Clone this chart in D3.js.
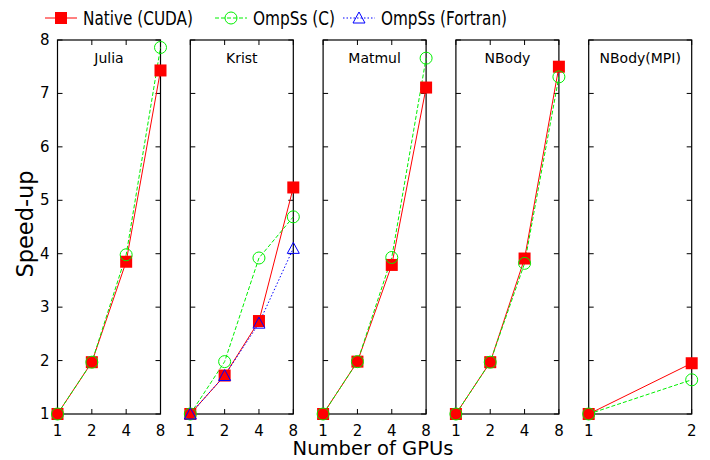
<!DOCTYPE html>
<html>
<head>
<meta charset="utf-8">
<script src="https://cdn.jsdelivr.net/npm/d3@7"></script>
<style>
  body { margin: 0; background: #fff; }
  text { font-family: "DejaVu Sans", sans-serif; fill: #000; }
</style>
</head>
<body>
<svg id="the-svg" width="710" height="460"></svg>
<script>
// benchmark names and GPU counts
var apps = ["Julia", "Krist", "Matmul", "NBody", "NBody(MPI)"];
var gpus = [[1, 2, 4, 8], [1, 2, 4, 8], [1, 2, 4, 8], [1, 2, 4, 8], [1, 2]];
var yTicks = [1, 2, 3, 4, 5, 6, 7, 8];

// speed-up per app
var nativeCuda = [[1, 1.97, 3.85, 7.43], [1, 1.72, 2.74, 5.24], [1, 1.98, 3.79, 7.11], [1, 1.97, 3.91, 7.5], [1, 1.95]];
var ompssC = [[1, 1.97, 3.98, 7.86], [1, 1.98, 3.92, 4.69], [1, 1.98, 3.93, 7.66], [1, 1.97, 3.82, 7.31], [1, 1.64]];
var ompssFortran = [null, [1, 1.72, 2.7, 4.1], null, null, null];

var series = [
    {name: "Native (CUDA)", vals: nativeCuda, color: "#ff0000", dash: null, marker: "square", w: 110},
    {name: "OmpSs (C)", vals: ompssC, color: "#00f000", dash: "4,2", marker: "circle", w: 82},
    {name: "OmpSs (Fortran)", vals: ompssFortran, color: "#0000ff", dash: "1.5,2", marker: "triangle", w: 126}
];

var svg = d3.select("#the-svg");
var plotTop = 40, plotBottom = 414, panelW = 103, step = 132.8, left0 = 57.5;

var y = d3.scaleLinear().domain([1, 8]).range([plotBottom, plotTop]);

var drawMarker = function(g, s, px, py) {
    if (s.marker == "square") {
        g.append("rect").attr("x", px - 6).attr("y", py - 6).attr("width", 12).attr("height", 12)
            .attr("fill", s.color);
    } else if (s.marker == "circle") {
        g.append("circle").attr("cx", px).attr("cy", py).attr("r", 6)
            .attr("fill", "none").attr("stroke", s.color).attr("stroke-width", 1);
    } else {
        g.append("path").attr("d", "M" + px + "," + (py - 6) + "L" + (px + 6) + "," + (py + 5) + "L" + (px - 6) + "," + (py + 5) + "Z")
            .attr("fill", "none").attr("stroke", s.color).attr("stroke-width", 1);
    }
};

apps.forEach(function(app, i) {
    var x0 = left0 + i * step;
    var xs = gpus[i];
    var x = d3.scaleLog().base(2).domain([xs[0], xs[xs.length - 1]]).range([x0, x0 + panelW]);
    var g = svg.append("g");

    // ticks, inside and mirrored
    var ta = g.append("g").attr("stroke", "#000").attr("stroke-width", 1);
    yTicks.forEach(function(t) {
        ta.append("line").attr("x1", x0).attr("x2", x0 + 5).attr("y1", y(t)).attr("y2", y(t));
        ta.append("line").attr("x1", x0 + panelW).attr("x2", x0 + panelW - 5).attr("y1", y(t)).attr("y2", y(t));
    });
    xs.forEach(function(t) {
        ta.append("line").attr("x1", x(t)).attr("x2", x(t)).attr("y1", plotBottom).attr("y2", plotBottom - 5);
        ta.append("line").attr("x1", x(t)).attr("x2", x(t)).attr("y1", plotTop).attr("y2", plotTop + 5);
        g.append("text").attr("x", x(t)).attr("y", plotBottom + 22).attr("text-anchor", "middle")
            .attr("font-size", 15).text(t);
    });
    if (i == 0) {
        yTicks.forEach(function(t) {
            g.append("text").attr("x", x0 - 8).attr("y", y(t) + 5).attr("text-anchor", "end")
                .attr("font-size", 15).text(t);
        });
    }

    g.append("rect").attr("x", x0).attr("y", plotTop).attr("width", panelW).attr("height", plotBottom - plotTop)
        .attr("fill", "none").attr("stroke", "#000").attr("stroke-width", 1.2);

    g.append("text").attr("x", x0 + panelW / 2).attr("y", 63).attr("text-anchor", "middle")
        .attr("font-size", 14).text(app);

    var line = d3.line().x(function(d, j) { return x(xs[j]); }).y(function(d) { return y(d); });
    series.forEach(function(s) {
        var v = s.vals[i];
        if (!v) return;
        g.append("path").attr("d", line(v)).attr("fill", "none")
            .attr("stroke", s.color).attr("stroke-width", 1)
            .attr("stroke-dasharray", s.dash);
    });
    series.forEach(function(s) {
        var v = s.vals[i];
        if (!v) return;
        v.forEach(function(d, j) { drawMarker(g, s, x(xs[j]), y(d)); });
    });
});

// legend
var legX = [45, 215, 343];
series.forEach(function(s, i) {
    var lg = svg.append("g");
    lg.append("line").attr("x1", legX[i]).attr("x2", legX[i] + 32).attr("y1", 18).attr("y2", 18)
        .attr("stroke", s.color).attr("stroke-width", 1).attr("stroke-dasharray", s.dash);
    drawMarker(lg, s, legX[i] + 16, 18);
    lg.append("text").attr("x", legX[i] + 38).attr("y", 25).attr("font-size", 19)
        .attr("textLength", s.w).attr("lengthAdjust", "spacingAndGlyphs").text(s.name);
});

svg.append("text").attr("transform", "translate(33,224) rotate(-90)").attr("text-anchor", "middle")
    .attr("font-size", 22.5).text("Speed-up");
svg.append("text").attr("x", 373).attr("y", 455).attr("text-anchor", "middle")
    .attr("font-size", 19.5).text("Number of GPUs");
</script>
</body>
</html>
